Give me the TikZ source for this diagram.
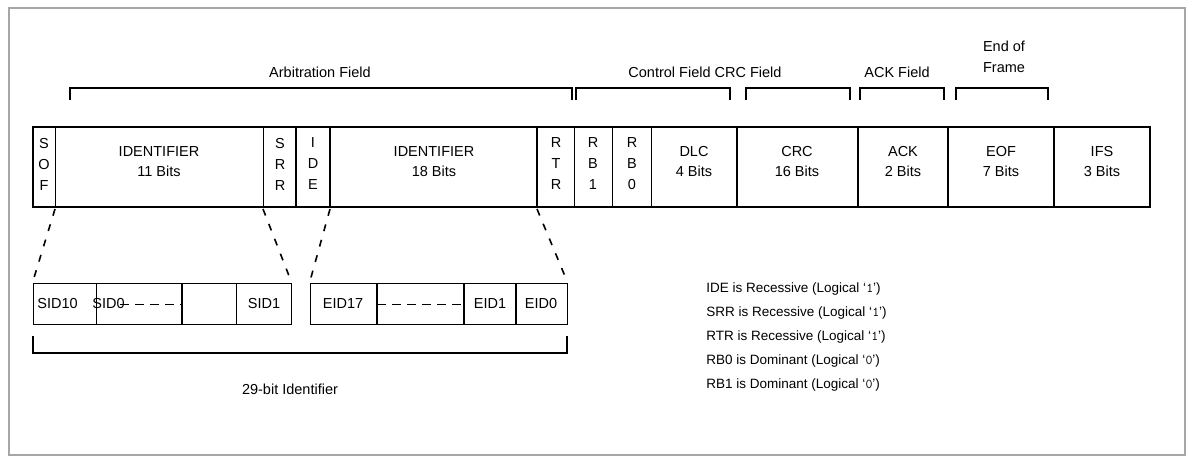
\documentclass[tikz,border=0pt]{standalone}
\usepackage{fontspec}
\setmainfont{Liberation Sans}
\usetikzlibrary{positioning}
\tikzset{
  lbl/.style={font=\fontsize{14.5}{16}\selectfont, align=center, inner sep=0pt},
  note/.style={font=\fontsize{13.5}{15}\selectfont, anchor=west, inner sep=0pt},
  brk/.style={line width=2pt},
  cut/.style={line width=1.6pt, dash pattern=on 7pt off 9pt},
}
\begin{document}
\begin{tikzpicture}[x=1pt,y=-1pt,line width=0.9pt]
\useasboundingbox (0,0) rectangle (1193,462);
\draw[gray!70,line width=1.2pt] (9,8) rectangle (1185,455);

% main frame row
\draw[line width=1.8pt] (33,127) rectangle (1150,207);
\foreach \x in {55,263,574,612,651} \draw (\x,127) -- (\x,207);
\foreach \x in {296,330,537,737,858,948,1054} \draw[line width=1.6pt] (\x,127) -- (\x,207);

\node[lbl] (sof) at (44,164) {S\\[5pt]O\\[5pt]F};
\node[lbl] (id11) at (159,162) {IDENTIFIER\\[4pt]11 Bits};
\node[lbl] (srr) at (280,164) {S\\[5pt]R\\[5pt]R};
\node[lbl] (ide) at (313,164) {I\\[5pt]D\\[5pt]E};
\node[lbl] (id18) at (434,162) {IDENTIFIER\\[4pt]18 Bits};
\node[lbl] (rtr) at (556,164) {R\\[5pt]T\\[5pt]R};
\node[lbl] (rb1) at (593,164) {R\\[5pt]B\\[5pt]1};
\node[lbl] (rb0) at (632,164) {R\\[5pt]B\\[5pt]0};
\node[lbl] (dlc) at (694,162) {DLC\\[4pt]4 Bits};
\node[lbl] (crc) at (797,162) {CRC\\[4pt]16 Bits};
\node[lbl] (ack) at (903,162) {ACK\\[4pt]2 Bits};
\node[lbl] (eof) at (1001,162) {EOF\\[4pt]7 Bits};
\node[lbl] (ifs) at (1102,162) {IFS\\[4pt]3 Bits};

% field brackets
\draw[brk] (70,100) -- (70,88) -- (572,88) -- (572,100);
\draw[brk] (576,100) -- (576,88) -- (730,88) -- (730,100);
\draw[brk] (746,100) -- (746,88) -- (850,88) -- (850,100);
\draw[brk] (860,100) -- (860,88) -- (944,88) -- (944,100);
\draw[brk] (956,100) -- (956,88) -- (1048,88) -- (1048,100);
\node[lbl] (arb) at (320,72) {Arbitration Field};
\node[lbl] (ctl) at (705,72) {Control Field CRC Field};
\node[lbl] (ackf) at (897,72) {ACK Field};
\node[lbl] (eoff) at (1004,57) {End of\\[5pt]Frame};

% expanded identifier
\draw (33,283) rectangle (291,324);
\foreach \x in {96,236} \draw (\x,283) -- (\x,324);
\draw[line width=1.4pt] (182,283) -- (182,324);
\draw (310,283) rectangle (567,324);
\foreach \x in {377,464,516} \draw[line width=1.4pt] (\x,283) -- (\x,324);
\draw[dash pattern=on 9pt off 6pt] (120,304) -- (182,304);
\draw[dash pattern=on 9pt off 6pt] (377,304) -- (464,304);
\node[lbl,anchor=west] (sid10) at (37,304) {SID10};
\node[lbl,anchor=west] (sid0) at (92,304) {SID0};
\node[lbl] (sid1) at (264,304) {SID1};
\node[lbl] (eid17) at (343,304) {EID17};
\node[lbl] (eid1) at (490,304) {EID1};
\node[lbl] (eid0) at (541,304) {EID0};

\draw[cut] (55,209) -- (33,281);
\draw[cut] (263,209) -- (291,281);
\draw[cut] (330,209) -- (310,281);
\draw[cut] (537,209) -- (567,281);

\draw[brk] (33,336) -- (33,353) -- (567,353) -- (567,336);
\node[lbl] (bits29) at (290,389) {29-bit Identifier};

\node[note] (n1) at (706,289) {IDE is Recessive (Logical `\texttt{1}')};
\node[note] (n2) at (706,313) {SRR is Recessive (Logical `\texttt{1}')};
\node[note] (n3) at (706,337) {RTR is Recessive (Logical `\texttt{1}')};
\node[note] (n4) at (706,361) {RB0 is Dominant (Logical `\texttt{0}')};
\node[note] (n5) at (706,385) {RB1 is Dominant (Logical `\texttt{0}')};
\end{tikzpicture}
\end{document}
